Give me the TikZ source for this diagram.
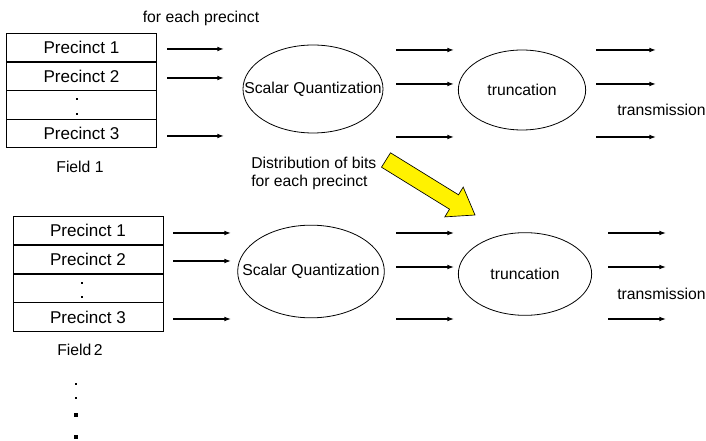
\documentclass[tikz,border=0pt]{standalone}
\usepackage{fontspec}
\setmainfont{Liberation Sans}
\usetikzlibrary{shapes.geometric,arrows.meta}
\begin{document}
\begin{tikzpicture}[x=0.75pt,y=-0.75pt,
  font=\fontsize{11.8}{13.8}\selectfont,
  cell/.style={draw, line width=0.6pt, minimum width=112pt, minimum height=21.6pt, inner sep=0pt, font=\fontsize{12.8}{14}\selectfont},
  cellb/.style={cell, minimum width=112.5pt},
  oval/.style={draw, line width=0.6pt, ellipse, inner sep=0pt},
  arr/.style={line width=1pt, -{Latex[length=5pt,width=3.6pt]}},
  dotsq/.style={fill=black, draw=none, inner sep=0pt},
]
\useasboundingbox (0,0) rectangle (706,441);

% ---------- Field 1 ----------
\node[cell] (p11) at (81.5,47.5) {Precinct 1};
\node[cell] (p12) at (81.5,76.5) {Precinct 2};
\node[cell] (p1d) at (81.5,105)  {};
\node[cell] (p13) at (81.5,133.5) {Precinct 3};
\node[dotsq, minimum size=1.6pt] (d11) at (77,99) {};
\node[dotsq, minimum size=1.6pt] (d12) at (77,114) {};
\node (f1) at (80,167) {Field 1};
\node (fe) at (201,18) {for each precinct};

\node[oval, minimum width=105pt, minimum height=66pt] (sq1) at (313,89) {};
\node (sq1t) at (sq1.center) {Scalar Quantization};
\node[oval, minimum width=95.5pt, minimum height=60pt] (tr1) at (522,90) {};
\node (tr1t) at (tr1.center) {truncation};
\node (tx1) at (661.5,110) {transmission};

\foreach \i/\xa/\xb/\y in {a/167/224/49, b/167/224/78, c/167/224/136,
                           d/396/454/50, e/396/454/84, f/396/454/137,
                           g/596/656/50, h/596/656/84, k/596/656/137}{
  \coordinate (s1\i) at (\xa,\y);
  \coordinate (e1\i) at (\xb,\y);
  \draw[arr] (s1\i) -- (e1\i);
}

% ---------- Yellow arrow ----------
\filldraw[fill=yellow, draw=black, line width=0.5pt]
  (390.5,152.8) -- (458.5,194.8) -- (463.2,187.1) -- (475,215)
  -- (444.8,216.9) -- (449.5,209.2) -- (381.5,167.2) -- cycle;
\node[align=left, anchor=west, inner sep=0pt] (dist) at (251,173.5)
  {Distribution of bits\\for each precinct};

% ---------- Field 2 ----------
\node[cellb] (p21) at (88,230.5) {Precinct 1};
\node[cellb] (p22) at (88,259.5) {Precinct 2};
\node[cellb] (p2d) at (88,288.5) {};
\node[cellb] (p23) at (88,317)   {Precinct 3};
\node[dotsq, minimum size=1.6pt] (d21) at (82,283) {};
\node[dotsq, minimum size=1.6pt] (d22) at (82,297) {};
\node (f2) at (80,350) {Field\,2};

\node[oval, minimum width=110pt, minimum height=69.5pt] (sq2) at (311,271.5) {};
\node (sq2t) at (sq2.center) {Scalar Quantization};
\node[oval, minimum width=100pt, minimum height=62pt] (tr2) at (525,274) {};
\node (tr2t) at (tr2.center) {truncation};
\node (tx2) at (661.5,294) {transmission};

\foreach \i/\xa/\xb/\y in {a/173/231/233, b/173/231/261, c/173/231/319,
                           d/396/454/233, e/396/454/267, f/396/454/319,
                           g/608/666/233, h/608/666/267, k/608/666/319}{
  \coordinate (s2\i) at (\xa,\y);
  \coordinate (e2\i) at (\xb,\y);
  \draw[arr] (s2\i) -- (e2\i);
}

% ---------- vertical dots ----------
\node[dotsq, minimum size=1.6pt] (v1) at (76,384) {};
\node[dotsq, minimum size=1.6pt] (v2) at (76,398) {};
\node[dotsq, minimum size=2.4pt] (v3) at (76,415) {};
\node[dotsq, minimum size=2.4pt] (v4) at (76,437) {};
\end{tikzpicture}
\end{document}
